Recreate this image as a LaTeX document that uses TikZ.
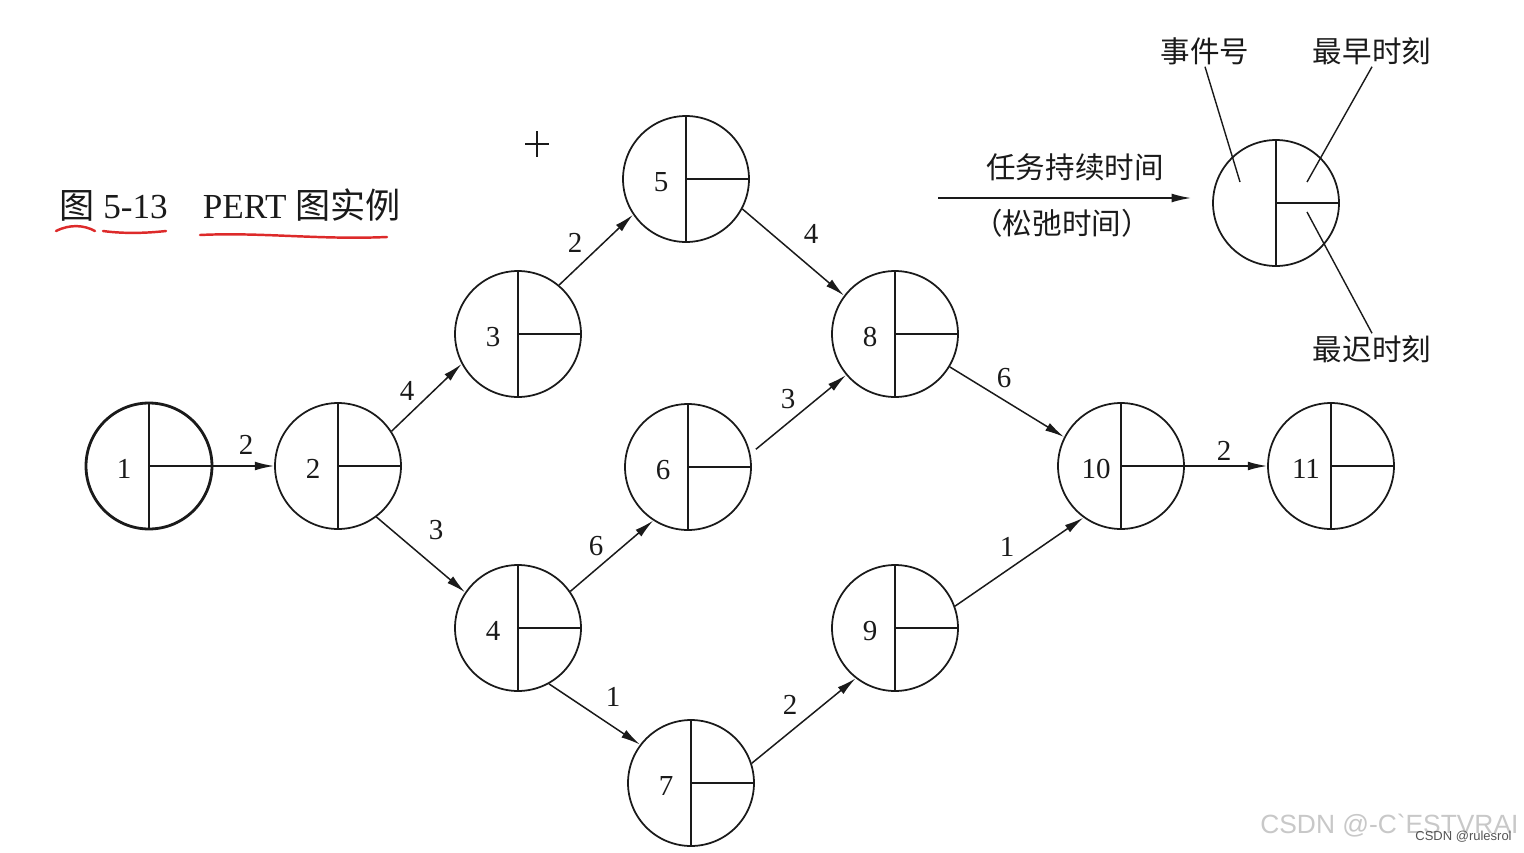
\documentclass[tikz,border=0pt]{standalone}
\usepackage{fontspec}
\setmainfont{Liberation Serif}
\newfontfamily\cjk{Noto Sans CJK SC}
\newfontfamily\wmfont{Liberation Sans}
\usepackage{tikz}
\usetikzlibrary{arrows.meta,positioning,calc}
\definecolor{pen}{HTML}{1A1A1A}
\definecolor{marker}{HTML}{DD2A2A}
\definecolor{wmgray}{HTML}{C8C8C8}
\definecolor{wmdark}{HTML}{555555}

\tikzset{
  split/.style={circle,draw=pen,line width=1pt,minimum size=2.52cm,inner sep=0pt,
    path picture={\draw[pen,line width=1pt]
      (path picture bounding box.north) -- (path picture bounding box.south)
      (path picture bounding box.center) -- (path picture bounding box.east);}},
  event/.style={split,label={[num,xshift=-0.5cm,yshift=-0.06cm]center:#1}},
  num/.style={font=\fontsize{16.5}{18}\selectfont,text=pen,inner sep=0pt},
  weight/.style={font=\fontsize{16.5}{18}\selectfont,text=pen,inner sep=0pt},
  arr/.style={pen,line width=0.85pt,-{Latex[length=11pt,width=5pt]}},
  keytext/.style={font=\cjk\fontsize{16.8}{19}\selectfont,text=pen,inner sep=1pt},
}

\begin{document}
\begin{tikzpicture}[x=0.02cm,y=-0.02cm]
  \useasboundingbox[fill=white] (0,0) rectangle (1524,852);

  % caption with hand-drawn underlines
  \node[anchor=west,text=pen,font=\fontsize{20}{23}\selectfont,inner sep=0pt] (title) at (59,205)
    {{\cjk 图} 5-13\quad PERT {\cjk 图实例}};
  \draw[marker,line width=1.4pt,line cap=round] (56,231) .. controls (70,224) and (84,225) .. (95,231);
  \draw[marker,line width=1.4pt,line cap=round] (103,231) .. controls (125,234) and (148,233) .. (166,231);
  \draw[marker,line width=1.4pt,line cap=round] (200,235) .. controls (260,232) and (320,240) .. (387,237);

  % stray cursor mark
  \draw[pen,line width=0.8pt] (525,144) -- (549,144) (537,131) -- (537,157);

  % events
  \node[event=1,line width=1.6pt] (n1) at (149,466) {};
  \node[event=2] (n2) at (338,466) {};
  \node[event=3] (n3) at (518,334) {};
  \node[event=4] (n4) at (518,628) {};
  \node[event=5] (n5) at (686,179) {};
  \node[event=6] (n6) at (688,467) {};
  \node[event=7] (n7) at (691,783) {};
  \node[event=8] (n8) at (895,334) {};
  \node[event=9] (n9) at (895,628) {};
  \node[event=10] (n10) at (1121,466) {};
  \node[event=11] (n11) at (1331,466) {};

  % activities
  \draw[arr] (n1) -- (n2);
  \draw[arr] (n2.33) -- (n3.208);
  \draw[arr] (n2.-53) -- (n4.146);
  \draw[arr] (n3.50) -- (n5.214);
  \draw[arr] (n5.-28) -- (n8.143);
  \draw[arr] (n4.35) -- (n6.237);
  \draw[arr,shorten <=0.14cm] (n6.12) -- (n8.220);
  \draw[arr] (n4.-61) -- (n7.143);
  \draw[arr] (n7.18) -- (n9.232);
  \draw[arr] (n8.-31) -- (n10.153);
  \draw[arr] (n9.20) -- (n10.234);
  \draw[arr] (n10) -- (n11);

  % durations
  \node[weight] (w12) at (246,445) {2};
  \node[weight] (w23) at (407,391) {4};
  \node[weight] (w24) at (436,530) {3};
  \node[weight] (w35) at (575,243) {2};
  \node[weight] (w58) at (811,234) {4};
  \node[weight] (w46) at (596,546) {6};
  \node[weight] (w68) at (788,399) {3};
  \node[weight] (w47) at (613,697) {1};
  \node[weight] (w79) at (790,705) {2};
  \node[weight] (w810) at (1004,378) {6};
  \node[weight] (w910) at (1007,547) {1};
  \node[weight] (w1011) at (1224,451) {2};

  % legend
  \coordinate (ks) at (938,198);
  \coordinate (ke) at (1191,198);
  \draw[arr] (ks) -- (ke);
  \node[keytext] (dur) at (1075,167) {任务持续时间};
  \node[keytext] (slack) at (1062,223) {（松弛时间）};
  \node[split] (key) at (1276,203) {};
  \node[keytext] (evno) at (1205,51) {事件号};
  \node[keytext] (early) at (1372,51) {最早时刻};
  \node[keytext] (late) at (1372,349) {最迟时刻};
  \coordinate (pno) at (1240,182);
  \coordinate (pearly) at (1307,182);
  \coordinate (plate) at (1307,212);
  \draw[pen,line width=0.8pt] (evno.south) -- (pno);
  \draw[pen,line width=0.8pt] (early.south) -- (pearly);
  \draw[pen,line width=0.8pt] (late.north) -- (plate);

  % watermark
  \node[anchor=west,text=wmgray,font=\wmfont\fontsize{15}{17}\selectfont,inner sep=0pt] (wm) at (1260,826) {CSDN @-C`ESTVRAI};
  \node[anchor=west,text=wmdark,font=\wmfont\fontsize{7.4}{9}\selectfont,inner sep=0pt] (wm2) at (1415,837) {CSDN @rulesrol};
\end{tikzpicture}
\end{document}
